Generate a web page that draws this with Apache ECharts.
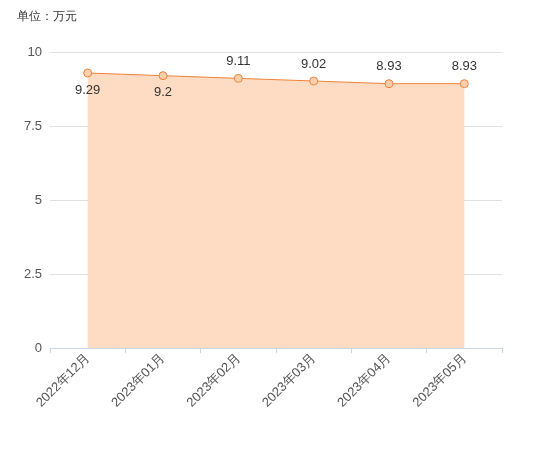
<!DOCTYPE html>
<html><head><meta charset="utf-8">
<script src="https://cdn.jsdelivr.net/npm/echarts@6/dist/echarts.min.js"></script>
<style>html,body{margin:0;padding:0}#c{width:542px;height:459px}</style>
</head><body><div id="c"></div>
<script>
const categories = ['2022年12月','2023年01月','2023年02月','2023年03月','2023年04月','2023年05月'];
const values = [9.29, 9.2, 9.11, 9.02, 8.93, 8.93];
const yTicks = [0, 2.5, 5, 7.5, 10];
const labelPos = ['bottom','bottom','top','top','top','top'];
const chart = echarts.init(document.getElementById('c'));
chart.setOption({
  title: {text: '单位：万元', left: 12, top: 6, textStyle: {fontSize: 12, fontWeight: 'normal', color: '#333'}},
  grid: {left: 50, right: 40, top: 52, bottom: 111},
  xAxis: {type: 'category', data: categories, boundaryGap: true,
    axisLine: {lineStyle: {color: '#ccd6e0'}}, axisTick: {show: true, lineStyle: {color: '#ccd6e0'}},
    axisLabel: {rotate: 45, color: '#555', fontSize: 13, interval: 0}},
  yAxis: {type: 'value', min: 0, max: 10, interval: 2.5,
    axisLabel: {color: '#555', fontSize: 13, formatter: v => yTicks.includes(v) ? String(v) : ''},
    splitLine: {lineStyle: {color: '#e0e0e0'}}},
  series: [{type: 'line',
    data: values.map((v, i) => ({value: v, label: {position: labelPos[i]}})),
    symbol: 'circle', symbolSize: 8,
    itemStyle: {color: '#fcd0ae', borderColor: '#f0823a', borderWidth: 1},
    lineStyle: {color: '#f0823a', width: 1},
    areaStyle: {color: '#fedcc3', opacity: 1},
    label: {show: true, color: '#333', fontSize: 13, distance: 6}
  }]
});
</script></body></html>
